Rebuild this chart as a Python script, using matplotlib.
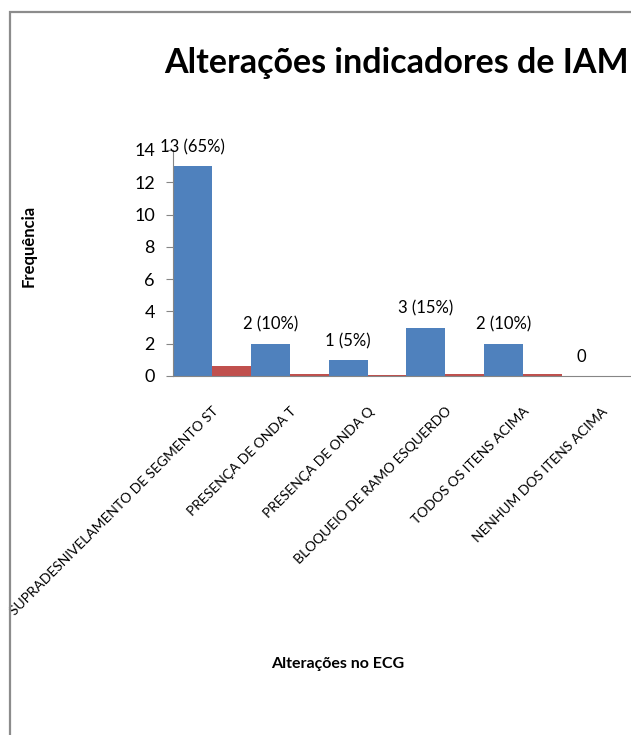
import matplotlib
matplotlib.use("Agg")
import matplotlib.pyplot as plt
from matplotlib.patches import Rectangle

plt.rcParams['font.family'] = ['Lato', 'DejaVu Sans']

categories = ["SUPRADESNIVELAMENTO DE SEGMENTO ST", "PRESENÇA DE ONDA T",
              "PRESENÇA DE ONDA Q", "BLOQUEIO DE RAMO ESQUERDO",
              "TODOS OS ITENS ACIMA", "NENHUM DOS ITENS ACIMA"]
counts = [13, 2, 1, 3, 2, 0]
shares = [0.65, 0.10, 0.05, 0.15, 0.10, 0.0]
bar_labels = ["13 (65%)", "2 (10%)", "1 (5%)", "3 (15%)", "2 (10%)", "0"]
yticks = [0, 2, 4, 6, 8, 10, 12, 14]

blue = "#4F81BD"
red = "#C0504D"
grey = "#868686"

fig = plt.figure(figsize=(6.31, 7.35), dpi=100)

# chart frame (cut off on the right and bottom like the screenshot)
fig.patches.append(Rectangle((10 / 631, -0.1), 1.2, 1 - 12 / 735 + 0.1,
                             transform=fig.transFigure, fill=False,
                             edgecolor="#8c8c8c", lw=1.6))

ax = fig.add_axes([173 / 631, 1 - 376 / 735, 1 - 173 / 631, 226 / 735])
x = list(range(len(categories)))
ax.bar([i - 0.25 for i in x], counts, width=0.5, color=blue)
ax.bar([i + 0.25 for i in x], shares, width=0.5, color=red)

for i, (c, t) in enumerate(zip(counts, bar_labels)):
    ax.annotate(t, (i - 0.25, c), xytext=(0, 10), textcoords="offset points",
                ha="center", va="baseline", fontsize=12, annotation_clip=False)

ax.set_xlim(-0.5, -0.5 + 458 / 77.8)
ax.set_ylim(0, 14)
ax.set_yticks(yticks)
ax.set_xticks(x)
ax.set_xticklabels(categories, rotation=45, ha="right", va="top",
                   rotation_mode="anchor", fontsize=10)
ax.tick_params(axis="x", length=0, pad=21)
ax.tick_params(axis="y", direction="out", length=5, color=grey, labelsize=13, pad=8)
for s in ["top", "right"]:
    ax.spines[s].set_visible(False)
for s in ["left", "bottom"]:
    ax.spines[s].set_color(grey)

fig.text(396 / 631, 1 - 73 / 735, "Alterações indicadores de IAM", ha="center",
         va="baseline", fontsize=24.5, fontweight="bold")
fig.text(29 / 631, 1 - 246 / 735, "Frequência", rotation=90, ha="center",
         va="center", fontsize=12, fontweight="bold")
fig.text(338 / 631, 1 - 664 / 735, "Alterações no ECG", ha="center",
         va="center", fontsize=11.5, fontweight="bold")

fig.savefig("out.png", dpi=100)
